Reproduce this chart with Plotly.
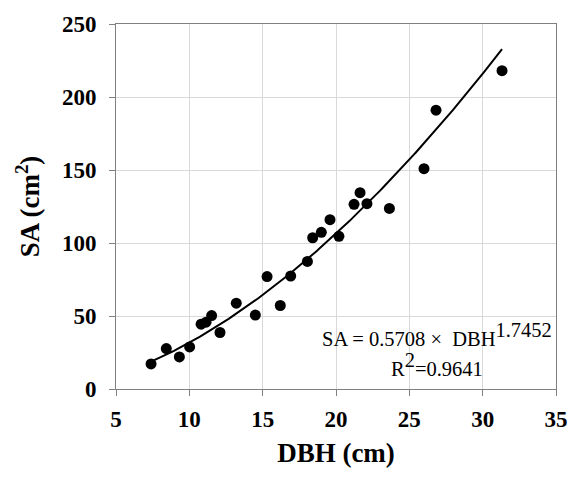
import numpy as np
import plotly.graph_objects as go

# Stem diameter at breast height (cm) and sapwood area (cm^2)
dbh = [7.39, 8.43, 9.32, 10.02, 10.80, 11.14, 11.52, 12.09, 13.20, 14.50,
       15.30, 16.20, 16.91, 18.05, 18.41, 19.00, 19.59, 20.20, 21.23, 21.64,
       22.11, 23.64, 26.00, 26.82, 31.32]
sa = [17.2, 27.7, 22.0, 28.8, 44.4, 45.8, 50.3, 38.7, 58.8, 50.6,
      77.0, 57.2, 77.4, 87.4, 103.6, 107.3, 116.0, 104.6, 126.5, 134.5,
      126.9, 123.7, 150.9, 191.0, 218.0]

# Power-law fit SA = a * DBH^b
coef_a = 0.5708
coef_b = 1.7452
r_squared = 0.9641

x_ticks = [5, 10, 15, 20, 25, 30, 35]
y_ticks = [0, 50, 100, 150, 200, 250]

serif = "Liberation Serif"

fit_x = np.linspace(min(dbh), max(dbh), 200)
fit_y = coef_a * fit_x ** coef_b

fig = go.Figure()
fig.add_trace(go.Scatter(
    x=dbh, y=sa, mode="markers",
    marker=dict(color="black", size=11, line=dict(width=0)),
    showlegend=False,
))
fig.add_trace(go.Scatter(
    x=fit_x, y=fit_y, mode="lines",
    line=dict(color="black", width=2),
    showlegend=False,
))

axis_common = dict(
    showgrid=True, gridcolor="#d9d9d9", gridwidth=1,
    showline=True, linecolor="#808080", linewidth=1, mirror=True,
    ticks="outside", ticklen=6, tickcolor="#808080",
    tickfont=dict(family=serif, size=23, color="black", weight="bold"),
    zeroline=False, automargin=False,
)

fig.update_xaxes(
    range=[5, 35], tickvals=x_ticks, ticktext=[f"<b>{v}</b>" for v in x_ticks],
    title=dict(text="<b>DBH (cm)</b>", font=dict(family=serif, size=27, color="black"), standoff=12),
    ticklabelstandoff=3,
    **axis_common,
)
fig.update_yaxes(
    range=[0, 250], tickvals=y_ticks, ticktext=[f"<b>{v}</b>" for v in y_ticks],
    title=dict(text="<b>SA (cm<sup>2</sup>)</b>", font=dict(family=serif, size=27, color="black"), standoff=14),
    ticklabelstandoff=8,
    **axis_common,
)

ann_font = dict(family=serif, size=20.5, color="black")
fig.add_annotation(
    x=26.89, y=25.5, xref="x", yref="y", xanchor="center", yanchor="bottom",
    text=f"SA = {coef_a:.4f} ×  DBH<sup><span style='font-size:20.5px'>{coef_b:.4f}</span></sup>",
    showarrow=False, font=ann_font,
)
fig.add_annotation(
    x=26.89, y=5.0, xref="x", yref="y", xanchor="center", yanchor="bottom",
    text=f"R<sup><span style='font-size:20.5px'>2</span></sup>={r_squared:.4f}",
    showarrow=False, font=ann_font,
)

fig.update_layout(
    width=569, height=477,
    margin=dict(l=116, r=13, t=24, b=88),
    paper_bgcolor="white", plot_bgcolor="white",
)

fig.write_html("out.html")
